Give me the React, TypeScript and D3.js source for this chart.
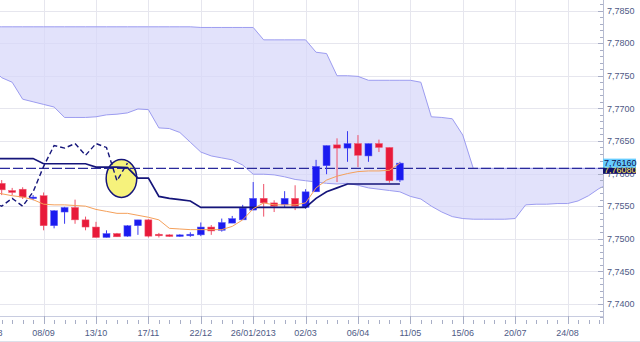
import React from 'react';
import * as d3 from 'd3';

// ---- data ----
const firstCandleDate = '11/08/2012';
const openVals = [7.7585, 7.7574, 7.7576, 7.7562, 7.7566, 7.7520, 7.7541, 7.7548, 7.7529, 7.7518, 7.7502, 7.7508, 7.7504, 7.7520, 7.7529, 7.7507, 7.7506, 7.7504, 7.7505, 7.7506, 7.7518, 7.7513, 7.7524, 7.7529, 7.7544, 7.7562, 7.7555, 7.7552, 7.7562, 7.7548, 7.7572, 7.7612, 7.7644, 7.7639, 7.7646, 7.7627, 7.7646, 7.7640, 7.7590];
const highVals = [7.7590, 7.7578, 7.7579, 7.7567, 7.7571, 7.7544, 7.7549, 7.7560, 7.7534, 7.7526, 7.7513, 7.7509, 7.7521, 7.7529, 7.7530, 7.7509, 7.7507, 7.7507, 7.7510, 7.7525, 7.7521, 7.7531, 7.7535, 7.7552, 7.7587, 7.7584, 7.7559, 7.7573, 7.7582, 7.7576, 7.7621, 7.7643, 7.7654, 7.7665, 7.7659, 7.7646, 7.7652, 7.7640, 7.7618];
const lowVals = [7.7567, 7.7567, 7.7561, 7.7559, 7.7513, 7.7516, 7.7523, 7.7523, 7.7513, 7.7502, 7.7502, 7.7503, 7.7503, 7.7506, 7.7502, 7.7502, 7.7503, 7.7503, 7.7503, 7.7504, 7.7506, 7.7511, 7.7524, 7.7529, 7.7544, 7.7534, 7.7541, 7.7548, 7.7544, 7.7546, 7.7572, 7.7599, 7.7587, 7.7618, 7.7610, 7.7618, 7.7633, 7.7586, 7.7587];
const closeVals = [7.7575, 7.7571, 7.7564, 7.7564, 7.7520, 7.7543, 7.7548, 7.7529, 7.7518, 7.7502, 7.7508, 7.7503, 7.7520, 7.7529, 7.7504, 7.7505, 7.7504, 7.7506, 7.7507, 7.7518, 7.7512, 7.7525, 7.7531, 7.7547, 7.7562, 7.7555, 7.7550, 7.7562, 7.7550, 7.7572, 7.7611, 7.7643, 7.7639, 7.7646, 7.7628, 7.7646, 7.7640, 7.7589, 7.7616];

// indicator series start one week before the first candle
const indicatorStartDate = '04/08/2012';
const kijunVals = [7.7623, 7.7623, 7.7623, 7.7623, 7.7623, 7.7615, 7.7615, 7.7615, 7.7615, 7.7615, 7.7610, 7.7610, 7.7610, 7.7609, 7.7593, 7.7593, 7.7565, 7.7562, 7.7560, 7.7558, 7.7548, 7.7548, 7.7548, 7.7548, 7.7548, 7.7548, 7.7548, 7.7548, 7.7548, 7.7548, 7.7548, 7.7562, 7.7572, 7.7578, 7.7584, 7.7584, 7.7584, 7.7584, 7.7584, 7.7584];
const tenkanVals = [7.7572, 7.7569, 7.7566, 7.7564, 7.7560, 7.7553, 7.7552, 7.7552, 7.7551, 7.7550, 7.7545, 7.7542, 7.7539, 7.7539, 7.7536, 7.7533, 7.7529, 7.7516, 7.7515, 7.7514, 7.7514, 7.7514, 7.7514, 7.7519, 7.7529, 7.7546, 7.7555, 7.7552, 7.7552, 7.7552, 7.7555, 7.7578, 7.7590, 7.7596, 7.7600, 7.7603, 7.7604, 7.7604, 7.7605, 7.7616];
const spanAVals = [7.7762, 7.7747, 7.7740, 7.7714, 7.7710, 7.7706, 7.7702, 7.7686, 7.7686, 7.7686, 7.7687, 7.7690, 7.7691, 7.7693, 7.7699, 7.7698, 7.7670, 7.7669, 7.7663, 7.7648, 7.7633, 7.7627, 7.7624, 7.7621, 7.7613, 7.7599, 7.7599, 7.7598, 7.7595, 7.7591, 7.7589, 7.7587, 7.7585, 7.7584, 7.7585, 7.7582, 7.7578, 7.7576, 7.7574, 7.7572, 7.7565, 7.7561, 7.7550, 7.7541, 7.7534, 7.7531, 7.7530, 7.7530, 7.7530, 7.7530, 7.7531, 7.7552, 7.7553, 7.7553, 7.7554, 7.7554, 7.7558, 7.7566, 7.7577, 7.7585];
const spanBVals = [7.7825, 7.7825, 7.7825, 7.7825, 7.7825, 7.7825, 7.7825, 7.7825, 7.7825, 7.7825, 7.7825, 7.7825, 7.7825, 7.7825, 7.7825, 7.7825, 7.7825, 7.7825, 7.7825, 7.7825, 7.7824, 7.7824, 7.7824, 7.7824, 7.7824, 7.7824, 7.7805, 7.7805, 7.7805, 7.7805, 7.7805, 7.7786, 7.7784, 7.7750, 7.7750, 7.7749, 7.7743, 7.7743, 7.7743, 7.7743, 7.7743, 7.7740, 7.7687, 7.7686, 7.7684, 7.7659, 7.7608, 7.7608, 7.7608, 7.7608, 7.7608, 7.7608, 7.7608, 7.7608, 7.7608, 7.7608, 7.7608, 7.7608, 7.7608, 7.7608];
const chikouShift = 26;

const refLineValue = 7.7608;
const annotationDate = '30/10/2012';
const annotationValue = 7.75926;

const xTickDates = ['04/08/2012', '08/09/2012', '13/10/2012', '17/11/2012', '22/12/2012', '26/01/2013', '02/03/2013', '06/04/2013', '11/05/2013', '15/06/2013', '20/07/2013', '24/08/2013'];
const xTickLabels = ['04/08', '08/09', '13/10', '17/11', '22/12', '26/01/2013', '02/03', '06/04', '11/05', '15/06', '20/07', '24/08'];
const yTicks = [7.74, 7.745, 7.75, 7.755, 7.76, 7.765, 7.77, 7.775, 7.78, 7.785];

// ---- styles ----
const BLUE = '#1b1bf0';
const RED = '#e81a3a';
const NAVY = '#15157a';
const TXT = '#4e5a86';
const FONT = "'Liberation Sans', Arial, sans-serif";

export default function App() {
  const parse = d3.utcParse('%d/%m/%Y');
  const W = 640, H = 342;
  const plotR = 603, plotB = 316;

  const c0 = parse(firstCandleDate) as Date;
  const i0 = parse(indicatorStartDate) as Date;
  const candleDates = openVals.map((_, i) => d3.utcDay.offset(c0, 7 * i));
  const indDate = (i: number) => d3.utcDay.offset(i0, 7 * i);

  const x = d3.scaleUtc().domain([candleDates[0], candleDates[candleDates.length - 1]]).range([1.7, 399.9]);
  const y = d3.scaleLinear().domain([7.74, 7.785]).range([304, 10.5]);

  const fmt = (v: number, p = 4) => d3.format(`.${p}f`)(v).replace('.', ',');

  const cloud = spanAVals.map((a, i) => ({ d: indDate(i), a, b: spanBVals[i] }));
  const area = d3.area<any>().x(p => x(p.d)).y0(p => y(p.a)).y1(p => y(p.b));
  const lineA = d3.line<any>().x(p => x(p.d)).y(p => y(p.a));
  const lineB = d3.line<any>().x(p => x(p.d)).y(p => y(p.b));

  const ptLine = d3.line<{ d: Date; v: number }>().x(p => x(p.d)).y(p => y(p.v));
  const kijun = kijunVals.map((v, i) => ({ d: indDate(i), v }));
  const tenkan = tenkanVals.map((v, i) => ({ d: indDate(i), v }));
  // chikou: close shifted back
  const chikou: { d: Date; v: number }[] = [];
  for (let k = -1; k + chikouShift < closeVals.length; k++) {
    chikou.push({ d: d3.utcDay.offset(c0, 7 * k), v: closeVals[k + chikouShift] });
  }

  const xTicks = xTickDates.map(s => parse(s) as Date);
  const minorTicks = d3.utcDay.range(xTicks[0], d3.utcDay.offset(xTicks[xTicks.length - 1], 28), 7);
  const yMinor = d3.range(7.737, 7.7871, 0.001);

  const bodyW = 7;
  const lastClose = closeVals[closeVals.length - 1];

  return (
    <svg width={W} height={H} style={{ position: 'absolute', left: 0, top: 0, background: '#fff' }} fontFamily={FONT}>
      <defs>
        <clipPath id="plot"><rect x={0} y={0} width={plotR} height={plotB} /></clipPath>
      </defs>
      {/* grid */}
      <g stroke="#e6e6ee" strokeWidth={1}>
        {yTicks.map(t => <line key={t} x1={0} x2={plotR} y1={Math.round(y(t)) + 0.5} y2={Math.round(y(t)) + 0.5} />)}
        {xTicks.map((t, i) => <line key={i} x1={Math.round(x(t)) + 0.5} x2={Math.round(x(t)) + 0.5} y1={0} y2={plotB} />)}
      </g>
      <g clipPath="url(#plot)">
        {/* cloud */}
        <path d={area(cloud) || ''} fill="#d6d6fa" fillOpacity={0.7} />
        <path d={lineA(cloud) || ''} fill="none" stroke="#9c9cf0" strokeWidth={1} />
        <path d={lineB(cloud) || ''} fill="none" stroke="#9c9cf0" strokeWidth={1} />
        {/* annotation */}
        <ellipse cx={x(parse(annotationDate) as Date)} cy={y(annotationValue)} rx={15.3} ry={19} fill="#f6f27c" stroke={NAVY} strokeWidth={1.5} />
        {/* reference dashed line */}
        <line x1={0} x2={plotR} y1={y(refLineValue)} y2={y(refLineValue)} stroke="#2a2a9c" strokeWidth={1.2} strokeDasharray="10,3" />
        {/* candles */}
        {openVals.map((o, i) => {
          const c = closeVals[i];
          const up = c >= o;
          const col = up ? BLUE : RED;
          const cx = x(candleDates[i]);
          const top = y(Math.max(o, c));
          const h = Math.max(1.6, y(Math.min(o, c)) - top);
          return (
            <g key={i}>
              <line x1={cx} x2={cx} y1={y(highVals[i])} y2={y(lowVals[i])} stroke={up ? '#3a3af0' : '#ee5068'} strokeWidth={1} />
              <rect x={cx - bodyW / 2} y={top} width={bodyW} height={h} fill={col} stroke={up ? '#5a5af6' : '#f05a70'} strokeWidth={0.5} />
            </g>
          );
        })}
        {/* lines */}
        <path d={ptLine(kijun) || ''} fill="none" stroke={NAVY} strokeWidth={1.7} />
        <path d={ptLine(tenkan) || ''} fill="none" stroke="#f5a05a" strokeWidth={1} />
        <path d={ptLine(chikou) || ''} fill="none" stroke={NAVY} strokeWidth={1.4} strokeDasharray="5,3" />
      </g>
      {/* axes */}
      <line x1={0} x2={plotR} y1={plotB + 0.5} y2={plotB + 0.5} stroke="#c8cce0" />
      <line x1={plotR + 0.5} x2={plotR + 0.5} y1={0} y2={324} stroke="#b8bdd2" />
      <g stroke="#a8aec6">
        {minorTicks.map((t, i) => {
          const px = Math.round(x(t)) + 0.5;
          return px < plotR ? <line key={i} x1={px} x2={px} y1={320} y2={324} /> : null;
        })}
        {xTicks.map((t, i) => {
          const px = Math.round(x(t)) + 0.5;
          return px < plotR && px > 0 ? <line key={'M' + i} x1={px} x2={px} y1={plotB} y2={324} /> : null;
        })}
        {yMinor.map((v, i) => {
          const py = Math.round(y(v)) + 0.5;
          return py < 324 && py > 0 ? <line key={'y' + i} x1={plotR - 3} x2={plotR} y1={py} y2={py} /> : null;
        })}
        {yTicks.map((v, i) => {
          const py = Math.round(y(v)) + 0.5;
          return <line key={'Y' + i} x1={plotR - 5} x2={plotR} y1={py} y2={py} />;
        })}
      </g>
      <g fontSize={9} fill={TXT}>
        {xTicks.map((t, i) => (
          <text key={i} x={x(t)} y={336} textAnchor="middle">{xTickLabels[i]}</text>
        ))}
        {yTicks.map((v, i) => (
          <text key={i} x={607} y={y(v) + 3.2}>{fmt(v)}</text>
        ))}
      </g>
      {/* value labels */}
      <g fontSize={9}>
        <rect x={603} y={y(refLineValue) - 3.5} width={33} height={9} fill="#12126a" />
        <text x={604} y={y(refLineValue) + 4.5} fill="#ffe84a">{fmt(refLineValue, 5)}</text>
        <rect x={603} y={y(lastClose) - 4.5} width={33} height={9} fill="#66ccff" />
        <text x={604} y={y(lastClose) + 3.2} fill="#10104a">{fmt(lastClose, 5)}</text>
      </g>
      <line x1={0} x2={W} y1={341.5} y2={341.5} stroke="#dde0ea" />
    </svg>
  );
}
